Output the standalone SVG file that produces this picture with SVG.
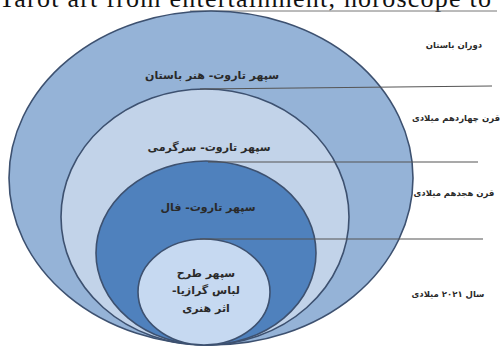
<svg xmlns="http://www.w3.org/2000/svg" width="501" height="351" viewBox="0 0 501 351">
  <style>
    .ring { stroke: #3D5170; stroke-width: 1.6; }
    .lead { stroke: #555; stroke-width: 1.1; fill: none; }
    .fa { font-family: "DejaVu Sans", "Noto Sans", sans-serif; font-weight: bold; fill: #2A2A2A; text-anchor: middle; direction: rtl; unicode-bidi: embed; }
    .side { font-size: 8.5px; }
    .inner { font-size: 11px; }
  </style>
  <rect width="501" height="351" fill="#FFFFFF"/>

  <!-- heading line cut at the top edge -->
  <text x="-1" y="7" font-family="Liberation Serif, serif" font-size="26" fill="#111" textLength="492" lengthAdjust="spacing">Tarot art from entertainment, horoscope to</text>
  <line x1="190" y1="11" x2="497" y2="11" stroke="#777" stroke-width="1"/>

  <g id="sphere-ancient">
    <ellipse class="ring" cx="211" cy="178" rx="202" ry="167" fill="#95B3D7"/>
    <text class="fa inner" x="212" y="79">سپهر تاروت- هنر باستان</text>
  </g>
  <g id="sphere-entertainment">
    <ellipse class="ring" cx="205" cy="217" rx="144" ry="128" fill="#C2D3E9"/>
    <text class="fa inner" x="209" y="151">سپهر تاروت- سرگرمی</text>
  </g>
  <g id="sphere-fortune">
    <ellipse class="ring" cx="206" cy="253" rx="110" ry="92" fill="#4F81BD"/>
    <text class="fa inner" x="208" y="211">سپهر تاروت- فال</text>
  </g>
  <g id="sphere-dress">
    <ellipse class="ring" cx="204" cy="292" rx="66" ry="53" fill="#C6D9F1"/>
    <text class="fa inner" x="206" y="277">سپهر طرح</text>
    <text class="fa inner" x="206" y="294">لباس گرازیا-</text>
    <text class="fa inner" x="206" y="312">اثر هنری</text>
  </g>

  <g id="connectors">
    <line class="lead" x1="200" y1="89" x2="492" y2="86"/>
    <line class="lead" x1="208" y1="162" x2="478" y2="162"/>
    <line class="lead" x1="200" y1="239" x2="483" y2="239"/>
  </g>

  <g id="era-labels">
    <text class="fa side" x="454" y="48">دوران باستان</text>
    <text class="fa side" x="456" y="121">قرن چهاردهم میلادی</text>
    <text class="fa side" x="454" y="196">قرن هجدهم میلادی</text>
    <text class="fa side" x="448" y="297">سال ۲۰۲۱ میلادی</text>
  </g>
</svg>
